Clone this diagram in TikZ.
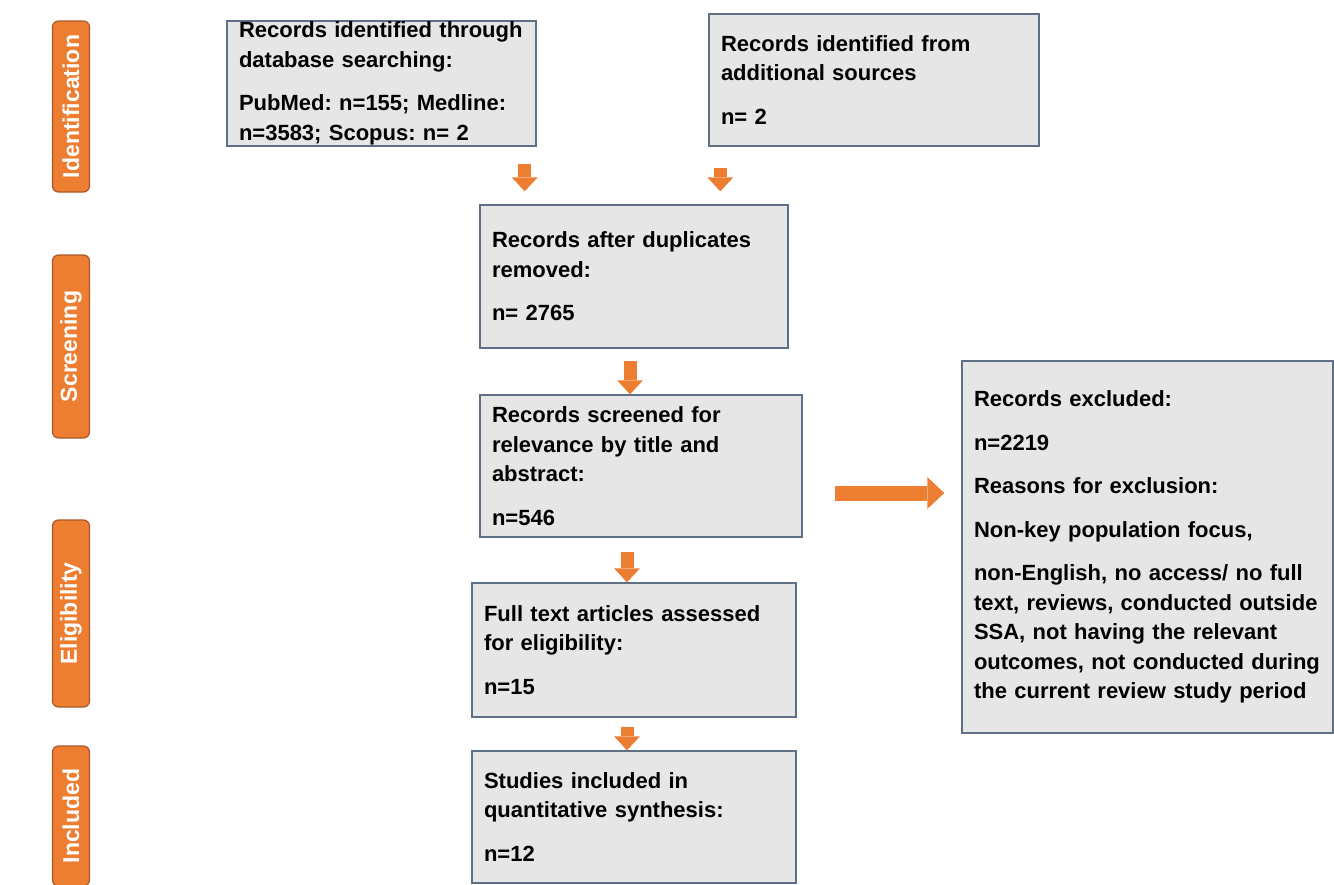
\documentclass[tikz,border=0pt]{standalone}
\usepackage{fontspec}
\setmainfont{Liberation Sans}[WordSpace=0.8]
\usetikzlibrary{arrows.meta,calc}

\definecolor{prisorange}{HTML}{ED7D31}
\definecolor{stageedge}{HTML}{A9592A}
\definecolor{boxfill}{HTML}{E7E6E6}
\definecolor{boxedge}{HTML}{5F6F86}
\newcommand{\boxfont}{\fontsize{11}{14.75}\selectfont\bfseries\frenchspacing}

\tikzset{
  stage/.style={draw=stageedge, fill=prisorange, rounded corners=3pt, line width=0.6pt,
    rotate=90, minimum height=18.5pt, inner sep=0pt, text=white,
    font=\fontsize{11.5}{12}\selectfont\bfseries},
  flowbox/.style={draw=boxedge, fill=boxfill, line width=0.7pt, align=left,
    inner xsep=6pt, inner ysep=0pt, font=\boxfont},
  blockdown/.style={draw=prisorange, line width=6.5pt,
    -{Triangle[width=13pt,length=7pt,line width=0pt]}},
  blockright/.style={draw=prisorange, line width=7.5pt,
    -{Triangle[width=16pt,length=8.5pt,line width=0pt]}}
}

\begin{document}
\begin{tikzpicture}[x=0.5pt, y=-0.5pt]
    \useasboundingbox (0,0) rectangle (1334,884);

    % stage labels
    \node[stage, minimum width=85.5pt] (identification) at (71,106.5) {Identification};
    \node[stage, minimum width=91.5pt] (screening) at (71,346.5) {Screening};
    \node[stage, minimum width=93.5pt] (eligibility) at (71,613.5) {Eligibility};
    \node[stage, minimum width=70pt] (includedlbl) at (71,816) {Included};

    % flow boxes
    \node[flowbox, text width=142.5pt, minimum height=62.5pt] (dbsearch) at (381.5,83.5)
      {Records identified through\\database searching:\\[7pt]PubMed: n=155; Medline:\\n=3583; Scopus: n= 2};
    \node[flowbox, text width=153pt, minimum height=66pt] (addsrc) at (874,80)
      {Records identified from\\additional sources\\[7pt]n= 2};
    \node[flowbox, text width=142pt, minimum height=71.5pt] (dedup) at (634,276.5)
      {Records after duplicates\\removed:\\[7pt]n= 2765};
    \node[flowbox, text width=149pt, minimum height=71pt] (screened) at (641,466)
      {Records screened for\\relevance by title and\\abstract:\\[7pt]n=546};
    \node[flowbox, text width=173.5pt, minimum height=186pt] (excluded) at (1147.5,547)
      {Records excluded:\\[7pt]n=2219\\[7pt]Reasons for exclusion:\\[7pt]Non-key population focus,\\[7pt]non-English, no access/ no full\\text, reviews, conducted outside\\SSA, not having the relevant\\outcomes, not conducted during\\the current review study period};
    \node[flowbox, text width=150pt, minimum height=67pt] (fulltext) at (634,650)
      {Full text articles assessed\\for eligibility:\\[7pt]n=15};
    \node[flowbox, text width=150pt, minimum height=66pt] (included) at (634,817)
      {Studies included in\\quantitative synthesis:\\[7pt]n=12};

    % arrows
    \coordinate (dbout) at ([xshift=-6pt]dbsearch.south east);
    \coordinate (addout) at ([xshift=6pt]addsrc.south west);
    \coordinate (dedupout) at ([xshift=-2pt]dedup.south);
    \coordinate (screenout) at ([xshift=-7pt]screened.south);
    \coordinate (fullout) at ([xshift=-3.5pt]fulltext.south);
    \coordinate (exclstart) at ($(screened.east)+(0,27)$);

    \draw[blockdown, shorten <=8.5pt, shorten >=6.5pt] (dbout) -- (dbout |- dedup.north);
    \draw[blockdown, shorten <=10.5pt, shorten >=6.5pt] (addout) -- (addout |- dedup.north);
    \draw[blockdown, shorten <=6pt] (dedupout) -- (dedupout |- screened.north);
    \draw[blockdown, shorten <=7pt] (screenout) -- (screenout |- fulltext.north);
    \draw[blockdown, shorten <=4.5pt] (fullout) -- (fullout |- included.north);
    \draw[blockright, shorten <=16pt, shorten >=8.5pt] (exclstart) -- (exclstart -| excluded.west);
\end{tikzpicture}
\end{document}
